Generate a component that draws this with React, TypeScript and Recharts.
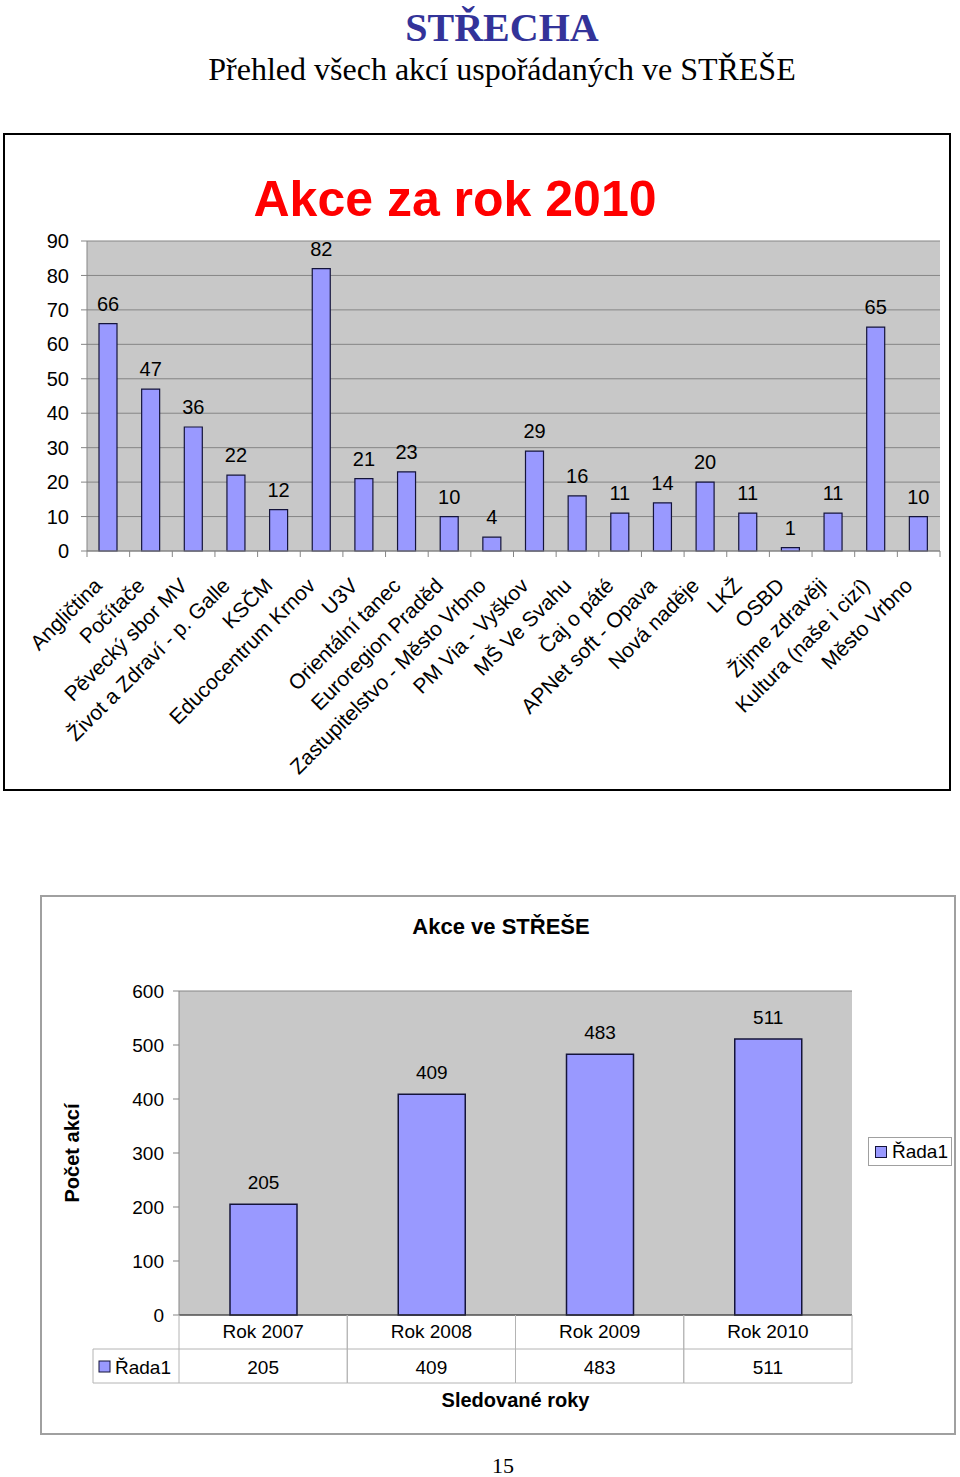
import { Bar, BarChart, CartesianGrid, LabelList, Legend, XAxis, YAxis } from 'recharts';

const categories2010 = [
  'Angličtina',
  'Počítače',
  'Pěvecký sbor MV',
  'Život a Zdraví - p. Galle',
  'KSČM',
  'Educocentrum Krnov',
  'U3V',
  'Orientální tanec',
  'Euroregion Praděd',
  'Zastupitelstvo - Město Vrbno',
  'PM Via - Vyškov',
  'MŠ Ve Svahu',
  'Čaj o páté',
  'APNet soft - Opava',
  'Nová naděje',
  'LKŽ',
  'OSBD',
  'Žijme zdravěji',
  'Kultura (naše i cizí)',
  'Město Vrbno',
];
const counts2010 = [66, 47, 36, 22, 12, 82, 21, 23, 10, 4, 29, 16, 11, 14, 20, 11, 1, 11, 65, 10];
const ticks2010 = [0, 10, 20, 30, 40, 50, 60, 70, 80, 90];

const years = ['Rok 2007', 'Rok 2008', 'Rok 2009', 'Rok 2010'];
const yearTotals = [205, 409, 483, 511];
const ticksYears = [0, 100, 200, 300, 400, 500, 600];
const seriesName = 'Řada1';

const data2010 = categories2010.map((name, i) => ({ name, value: counts2010[i] }));
const dataYears = years.map((name, i) => ({ name, value: yearTotals[i] }));

const BAR_FILL = '#9999ff';
const BAR_STROKE = '#14143a';
const PLOT_BG = '#c8c8c8';
const GRID = '#858585';
const TABLE_LINE = '#b4b4b4';

const CategoryTick = (props: any) => {
  const { x, y, payload, index, visibleTicksCount } = props;
  const half = payload.offset ?? 21.3;
  const tx = x - 5;
  const ty = y + 36;
  return (
    <g>
      <line x1={x - half} y1={y} x2={x - half} y2={y + 6} stroke={GRID} />
      {index === visibleTicksCount - 1 && (
        <line x1={x + half} y1={y} x2={x + half} y2={y + 6} stroke={GRID} />
      )}
      <text
        x={tx}
        y={ty}
        textAnchor="end"
        fontSize={21}
        fill="#000"
        transform={`rotate(-45, ${tx}, ${ty})`}
      >
        {payload.value}
      </text>
    </g>
  );
};

const TableTick = (props: any) => {
  const { x, y, payload, index } = props;
  const half = payload.offset ?? 84;
  const rowH = 34;
  const headW = 86;
  const left = x - half;
  const right = x + half;
  return (
    <g>
      <line x1={left} y1={y} x2={left} y2={y + rowH * 2} stroke={TABLE_LINE} />
      <line x1={right} y1={y} x2={right} y2={y + rowH * 2} stroke={TABLE_LINE} />
      <line x1={left} y1={y + rowH} x2={right} y2={y + rowH} stroke={TABLE_LINE} />
      <line x1={left} y1={y + rowH * 2} x2={right} y2={y + rowH * 2} stroke={TABLE_LINE} />
      <text x={x} y={y + 23} textAnchor="middle" fontSize={19} fill="#000">
        {payload.value}
      </text>
      <text x={x} y={y + rowH + 25} textAnchor="middle" fontSize={19} fill="#000">
        {yearTotals[index]}
      </text>
      {index === 0 && (
        <g>
          <line x1={left - headW} y1={y + rowH} x2={left} y2={y + rowH} stroke={TABLE_LINE} />
          <line x1={left - headW} y1={y + rowH * 2} x2={left} y2={y + rowH * 2} stroke={TABLE_LINE} />
          <line x1={left - headW} y1={y + rowH} x2={left - headW} y2={y + rowH * 2} stroke={TABLE_LINE} />
          <rect x={left - headW + 6} y={y + rowH + 12} width={11} height={11} fill={BAR_FILL} stroke={BAR_STROKE} />
          <text x={left - headW + 22} y={y + rowH + 25} fontSize={19} fill="#000">
            {seriesName}
          </text>
        </g>
      )}
    </g>
  );
};

const LegendBox = () => (
  <div
    style={{
      border: '1px solid #a0a0a0',
      background: '#fff',
      height: 29,
      display: 'flex',
      alignItems: 'center',
      paddingLeft: 6,
      fontSize: 19,
      boxSizing: 'border-box',
      width: 84,
    }}
  >
    <span
      style={{
        display: 'inline-block',
        width: 10,
        height: 10,
        background: BAR_FILL,
        border: `1px solid ${BAR_STROKE}`,
        marginRight: 5,
      }}
    />
    {seriesName}
  </div>
);

export default function App() {
  return (
    <div
      style={{
        position: 'absolute',
        left: 0,
        top: 0,
        width: 960,
        height: 1477,
        background: '#fff',
        fontFamily: '"Liberation Sans", Arial, sans-serif',
        color: '#000',
      }}
    >
      <div
        style={{
          position: 'absolute',
          left: 0,
          top: 8,
          width: 1004,
          textAlign: 'center',
          fontFamily: '"Liberation Serif", "Times New Roman", serif',
          fontWeight: 'bold',
          fontSize: 40,
          lineHeight: '40px',
          color: '#333399',
        }}
      >
        STŘECHA
      </div>
      <div
        style={{
          position: 'absolute',
          left: 0,
          top: 53,
          width: 1004,
          textAlign: 'center',
          fontFamily: '"Liberation Serif", "Times New Roman", serif',
          fontSize: 32,
          lineHeight: '32px',
        }}
      >
        Přehled všech akcí uspořádaných ve STŘEŠE
      </div>

      {/* graf 1 */}
      <div style={{ position: 'absolute', left: 3, top: 133, width: 948, height: 658 }}>
        <BarChart width={948} height={658} data={data2010} margin={{ top: 108, right: 11, left: 0, bottom: 0 }}>
          <CartesianGrid vertical={false} stroke={GRID} fill={PLOT_BG} fillOpacity={1} />
          <XAxis
            dataKey="name"
            interval={0}
            height={240}
            tickSize={0}
            tickMargin={0}
            tickLine={false}
            axisLine={{ stroke: GRID }}
            tick={<CategoryTick />}
          />
          <YAxis
            width={84}
            domain={[0, 90]}
            ticks={ticks2010}
            interval={0}
            tickSize={6}
            tickMargin={12}
            axisLine={{ stroke: GRID }}
            tickLine={{ stroke: GRID }}
            tick={{ fill: '#000', fontSize: 20 }}
          />
          <Bar dataKey="value" name={seriesName} fill={BAR_FILL} stroke={BAR_STROKE} strokeWidth={1.2} barSize={18} isAnimationActive={false}>
            <LabelList dataKey="value" position="top" offset={13} fill="#000" fontSize={20} />
          </Bar>
        </BarChart>
        <div
          style={{
            position: 'absolute',
            left: 0,
            top: 0,
            width: 948,
            height: 658,
            border: '2px solid #000',
            boxSizing: 'border-box',
            pointerEvents: 'none',
          }}
        />
        <div
          style={{
            position: 'absolute',
            left: -3,
            top: 41,
            width: 910,
            textAlign: 'center',
            fontWeight: 'bold',
            fontSize: 50,
            lineHeight: '50px',
            color: '#ff0000',
          }}
        >
          Akce za rok 2010
        </div>
      </div>

      {/* graf 2 */}
      <div style={{ position: 'absolute', left: 40, top: 895, width: 916, height: 540 }}>
        <BarChart width={916} height={540} data={dataYears} margin={{ top: 96, right: 104, left: 0, bottom: 0 }}>
          <CartesianGrid vertical={false} stroke={GRID} fill={PLOT_BG} fillOpacity={1} />
          <XAxis
            dataKey="name"
            interval={0}
            height={120}
            tickSize={0}
            tickMargin={0}
            tickLine={false}
            axisLine={{ stroke: '#333' }}
            tick={<TableTick />}
            label={{ value: 'Sledované roky', position: 'insideBottom', offset: 28, fontSize: 20, fontWeight: 'bold', fill: '#000' }}
          />
          <YAxis
            yAxisId="left"
            width={139}
            domain={[0, 600]}
            ticks={ticksYears}
            interval={0}
            tickSize={6}
            tickMargin={9}
            axisLine={{ stroke: GRID }}
            tickLine={{ stroke: GRID }}
            tick={{ fill: '#000', fontSize: 19 }}
            label={{
              value: 'Počet akcí',
              angle: -90,
              position: 'insideLeft',
              offset: 32,
              fontSize: 20,
              fontWeight: 'bold',
              fill: '#000',
              style: { textAnchor: 'middle' },
            }}
          />
          <YAxis
            yAxisId="right"
            orientation="right"
            width={0}
            domain={[0, 600]}
            tick={false}
            tickLine={false}
            axisLine={{ stroke: GRID }}
          />
          <Legend
            layout="horizontal"
            verticalAlign="middle"
            align="center"
            content={() => <LegendBox />}
            wrapperStyle={{ left: 828, top: 242, width: 84, height: 30 }}
          />
          <Bar
            yAxisId="left"
            dataKey="value"
            name={seriesName}
            fill={BAR_FILL}
            stroke={BAR_STROKE}
            strokeWidth={1.5}
            barSize={67}
            isAnimationActive={false}
          >
            <LabelList dataKey="value" position="top" offset={15} fill="#000" fontSize={19} />
          </Bar>
        </BarChart>
        <div
          style={{
            position: 'absolute',
            left: 0,
            top: 0,
            width: 916,
            height: 540,
            border: '2px solid #a0a0a0',
            boxSizing: 'border-box',
            pointerEvents: 'none',
          }}
        />
        <div
          style={{
            position: 'absolute',
            left: -40,
            top: 21,
            width: 1002,
            textAlign: 'center',
            fontWeight: 'bold',
            fontSize: 22,
            lineHeight: '22px',
          }}
        >
          Akce ve STŘEŠE
        </div>
      </div>

      <div
        style={{
          position: 'absolute',
          left: 0,
          top: 1455,
          width: 1006,
          textAlign: 'center',
          fontFamily: '"Liberation Serif", "Times New Roman", serif',
          fontSize: 22,
          lineHeight: '22px',
        }}
      >
        15
      </div>
    </div>
  );
}
